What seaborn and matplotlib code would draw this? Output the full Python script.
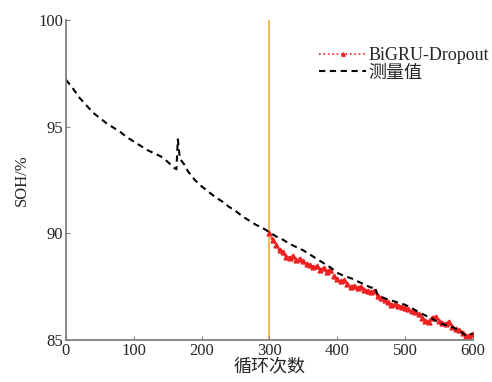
import numpy as np
import pandas as pd
import matplotlib.pyplot as plt
import seaborn as sns

# measured SOH (dashed black)
meas_x = [0, 10, 20, 30, 40, 50, 60, 70, 80, 90, 100, 110, 120, 130, 140, 150, 160, 163, 165, 168,
          175, 180, 190, 200, 210, 220, 230, 240, 250, 260, 270, 280, 290, 300, 310, 320, 330, 340,
          350, 360, 370, 380, 390, 400, 410, 420, 430, 440, 450, 455, 460, 470, 480, 490, 500, 510,
          520, 530, 540, 550, 560, 570, 580, 590, 600]
meas_y = [97.2, 96.8, 96.35, 96.0, 95.65, 95.4, 95.15, 94.95, 94.75, 94.5, 94.3, 94.1, 93.9, 93.75,
          93.6, 93.35, 93.05, 93.0, 94.4, 93.5, 93.2, 92.9, 92.5, 92.2, 91.95, 91.7, 91.5, 91.25,
          91.05, 90.8, 90.6, 90.4, 90.25, 90.05, 89.85, 89.7, 89.5, 89.35, 89.2, 89.0, 88.8, 88.6,
          88.4, 88.15, 88.0, 87.9, 87.75, 87.6, 87.45, 87.5, 87.1, 86.95, 86.85, 86.75, 86.65, 86.5,
          86.3, 86.15, 86.0, 85.8, 85.7, 85.6, 85.45, 85.2, 85.3]

# BiGRU-Dropout prediction (red)
pred_x = list(range(300, 605, 5))
pred_y = [90.0, 89.7, 89.45, 89.2, 89.1, 88.9, 88.85, 88.95, 88.75, 88.8, 88.7, 88.55, 88.5, 88.4,
          88.45, 88.3, 88.35, 88.2, 88.3, 88.0, 87.85, 87.75, 87.8, 87.6, 87.5, 87.55, 87.45, 87.5,
          87.35, 87.3, 87.25, 87.3, 87.05, 86.95, 86.85, 86.8, 86.65, 86.7, 86.6, 86.55, 86.5, 86.45,
          86.35, 86.3, 86.2, 86.05, 85.9, 85.85, 86.05, 86.1, 85.9, 85.8, 85.75, 85.85, 85.6, 85.5,
          85.45, 85.35, 85.2, 85.2, 85.3]

split_x = 300
red = '#ee2020'

sns.set_style('ticks')
plt.rcParams['font.family'] = ['Liberation Serif', 'Noto Sans CJK SC']
plt.rcParams['axes.unicode_minus'] = False

fig = plt.figure(figsize=(4.92, 3.82), dpi=100)
ax = fig.add_axes([0.134, 0.110, 0.827, 0.838])

pred = pd.DataFrame({'x': pred_x, 'y': pred_y})
meas = pd.DataFrame({'x': meas_x, 'y': meas_y})

sns.lineplot(data=pred, x='x', y='y', ax=ax, color=red, linestyle=(0, (1, 0.6)), linewidth=2.0,
             marker='^', markersize=3.5, markeredgewidth=1.0, markeredgecolor=red,
             label='BiGRU-Dropout')
sns.lineplot(data=meas, x='x', y='y', ax=ax, color='black', linestyle=(0, (3, 2.2)), linewidth=1.5,
             label='测量值')
ax.axvline(split_x, color='#f0b040', linewidth=1.2, zorder=0)

ax.set_xlim(0, 600)
ax.set_ylim(85, 100)
ax.set_xticks(range(0, 700, 100))
ax.set_yticks([85, 90, 95, 100])
ax.tick_params(direction='in', labelsize=12, length=3, color='#808080', pad=2)
for s in ['top', 'right']:
    ax.spines[s].set_visible(False)
for s in ['left', 'bottom']:
    ax.spines[s].set_color('#808080')
    ax.spines[s].set_linewidth(1.3)

ax.set_xlabel('循环次数', fontsize=13, labelpad=0)
ax.set_ylabel('SOH/%', fontsize=12, labelpad=6)

leg = ax.legend(loc='upper right', bbox_to_anchor=(1.07, 0.955), frameon=False, fontsize=13,
                handlelength=2.6, handletextpad=0.1, borderpad=0.2, labelspacing=0.05)
leg.legend_handles[0].set_linestyle(':')
leg.legend_handles[0].set_linewidth(1.2)
leg.legend_handles[0].set_markersize(2.5)

fig.savefig('out.png', dpi=100)
